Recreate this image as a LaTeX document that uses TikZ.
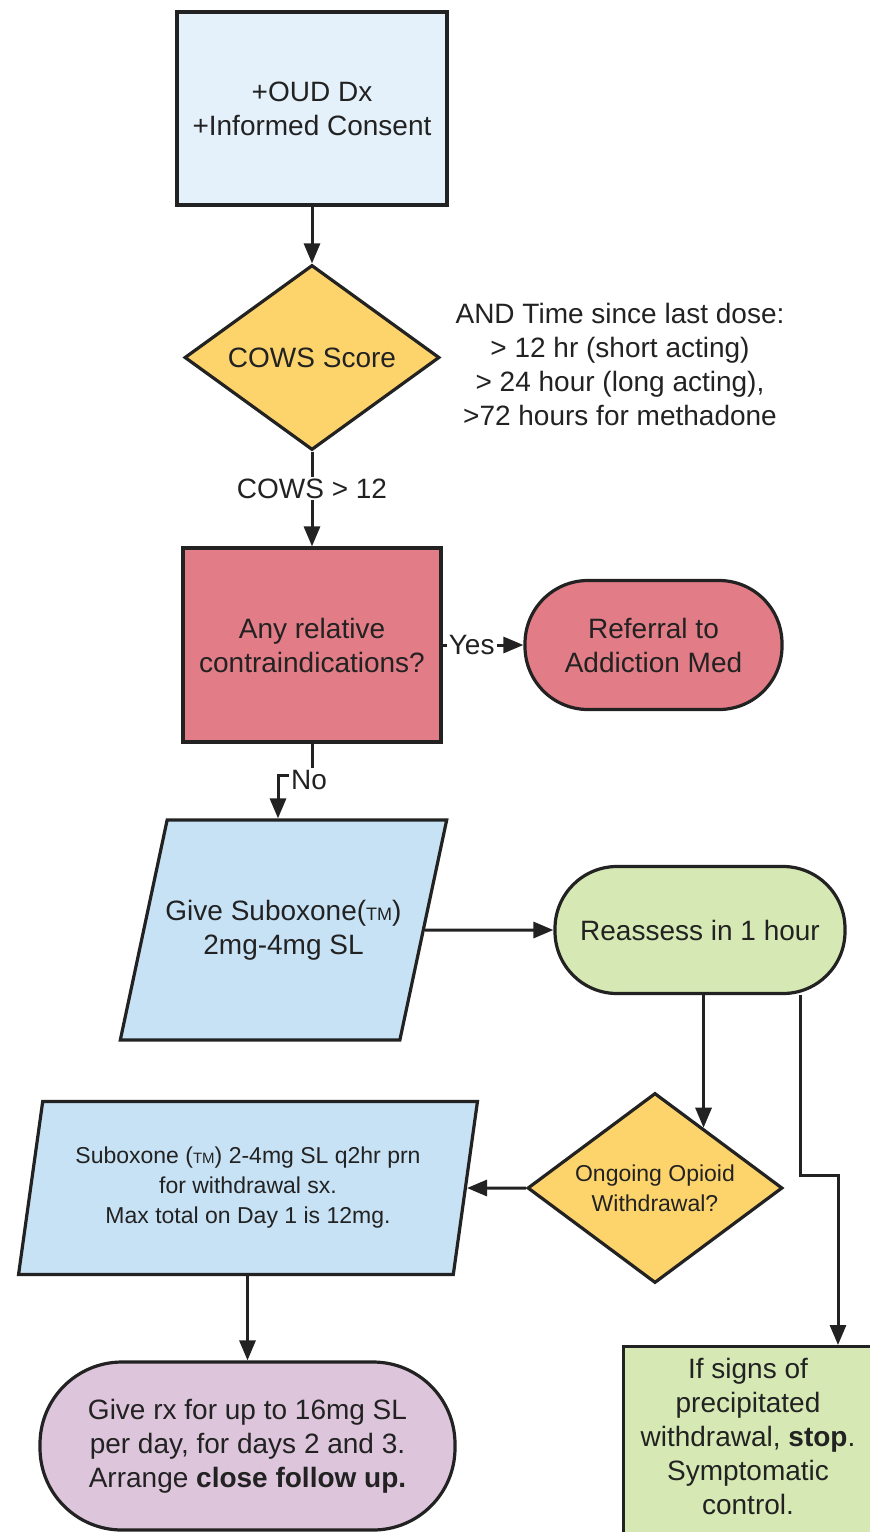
\documentclass[tikz,border=0pt]{standalone}
\usepackage{fontspec}
\setmainfont{Liberation Sans}
\usetikzlibrary{shapes.geometric,arrows.meta,calc}
\definecolor{bluebox}{HTML}{E4F1FA}
\definecolor{yel}{HTML}{FDD36C}
\definecolor{redb}{HTML}{E27C86}
\definecolor{parab}{HTML}{C8E2F5}
\definecolor{greenb}{HTML}{D6E9B4}
\definecolor{purp}{HTML}{DDC5DC}
\definecolor{ink}{HTML}{222222}
\newcommand{\tmsym}{({\fontsize{9pt}{9pt}\selectfont TM})}
\newcommand{\tmsmall}{({\fontsize{7.5pt}{8pt}\selectfont TM})}
\tikzset{
  base/.style={draw=ink, line width=1.6pt, text=ink, align=center,
    font=\fontsize{14pt}{17pt}\selectfont, inner sep=0pt},
  smallfont/.style={font=\fontsize{11.5pt}{15pt}\selectfont},
  arr/.style={draw=ink, line width=1.5pt, -{Triangle[length=10pt,width=8pt]}},
  lbl/.style={fill=white, inner sep=1pt, text=ink, font=\fontsize{14pt}{17pt}\selectfont},
  plain/.style={text=ink, align=center, inner sep=0pt, font=\fontsize{14pt}{17pt}\selectfont},
}
\begin{document}
\begin{tikzpicture}[x=0.5pt,y=-0.5pt]
\useasboundingbox[fill=white] (0,0) rectangle (870,1532);

% nodes
\node[base, fill=bluebox, minimum width=135pt, minimum height=96.5pt] (consent) at (312,108.5) {+OUD Dx\\+Informed Consent};
\node[base, diamond, aspect=1.38, fill=yel, minimum width=127.5pt, minimum height=92.5pt] (cows) at (312,357.5) {COWS Score};
\node[plain] (timenote) at (620,364) {AND Time since last dose:\\> 12 hr (short acting)\\> 24 hour (long acting),\\>72 hours for methadone};
\node[base, fill=redb, minimum width=129pt, minimum height=97pt] (contra) at (312,645) {Any relative\\contraindications?};
\node[base, fill=redb, rounded corners=31.5pt, minimum width=128.5pt, minimum height=64.5pt] (referral) at (653.5,645) {Referral to\\Addiction Med};
\node[base, trapezium, trapezium left angle=75, trapezium right angle=105, trapezium stretches=true, fill=parab, minimum width=163.5pt, minimum height=110pt] (give) at (283.5,930) {\makebox[40pt]{Give Suboxone\tmsym}\\\makebox[40pt]{2mg-4mg SL}};
\node[base, fill=greenb, rounded corners=31pt, minimum width=145pt, minimum height=63.5pt] (reassess) at (700,930) {Reassess in 1 hour};
\node[base, diamond, aspect=1.34, fill=yel, smallfont, minimum width=127.5pt, minimum height=95pt] (ongoing) at (655,1188) {Ongoing Opioid\\Withdrawal?};
\node[base, trapezium, trapezium left angle=76, trapezium right angle=104, trapezium stretches=true, fill=parab, smallfont, minimum width=230pt, minimum height=86.5pt] (prn) at (248,1188) {Suboxone \tmsmall{} 2-4mg SL q2hr prn\\for withdrawal sx.\\Max total on Day 1 is 12mg.};
\node[base, fill=purp, rounded corners=41pt, minimum width=207.5pt, minimum height=84pt] (rx) at (247.5,1446) {Give rx for up to 16mg SL\\per day, for days 2 and 3.\\Arrange \textbf{close follow up.}};
\node[base, fill=greenb, minimum width=132pt, minimum height=110pt, anchor=north west] (precip) at (622,1345) {};
\node[plain] (preciptext) at (748,1436) {If signs of\\precipitated\\withdrawal, \textbf{stop}.\\Symptomatic\\control.};

% connectors
\draw[arr] (consent) -- (cows);
\draw[arr] (cows) -- node[lbl, pos=0.39] (cowslbl) {COWS > 12} (contra);
\draw[arr] (contra) -- node[lbl, pos=0.36] (yeslbl) {Yes} (referral);
\coordinate (nobend) at (312,775);
\coordinate (noleft) at (278,775);
\draw[arr] (contra.south) -- (nobend) -- (noleft) -- (noleft |- give.north);
\node[lbl] (nolbl) at (309,780) {No};
\draw[arr] (give) -- (reassess);
\coordinate (ongin) at ($(ongoing.north)!0.376!(ongoing.east)$);
\draw[arr] (reassess.south -| ongin) -- (ongin);
\draw[arr] (ongoing) -- (prn);
\coordinate (r2a) at (800,1175);
\coordinate (r2b) at (838,1175);
\draw[arr] (reassess.south -| r2a) -- (r2a) -- (r2b) -- (r2b |- precip.north);
\draw[arr] (rx.north |- prn.south) -- (rx.north);
\end{tikzpicture}
\end{document}
